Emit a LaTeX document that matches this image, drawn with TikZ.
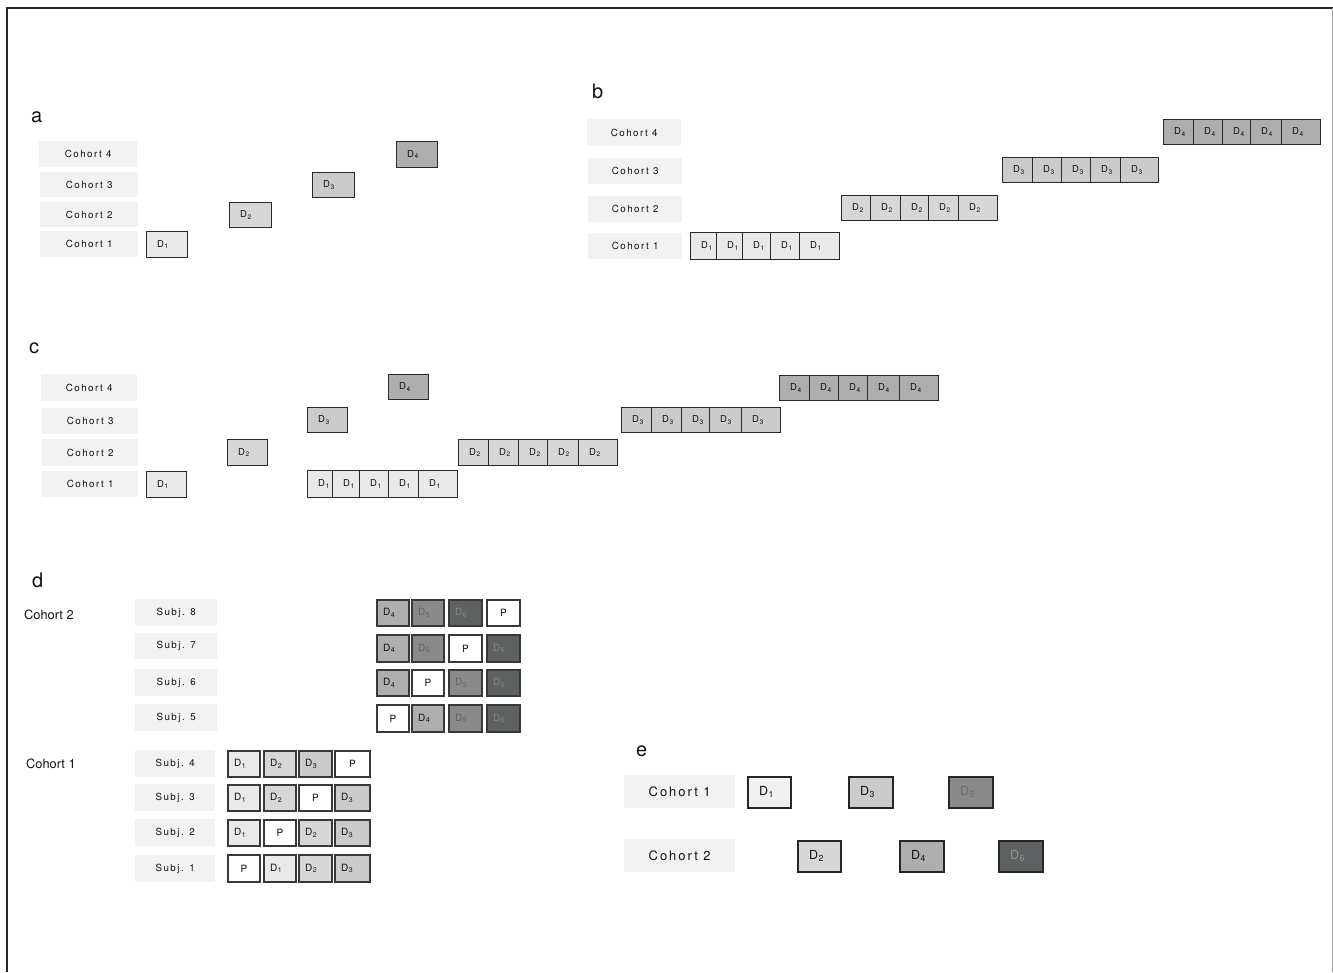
\documentclass[tikz,border=0pt]{standalone}
\usepackage{fontspec}
\setmainfont{TeX Gyre Heros}
\newfontfamily\lsfont[LetterSpace=15]{TeX Gyre Heros}
\definecolor{labfill}{HTML}{F2F2F2}
\definecolor{dA}{HTML}{E9E9E9}
\definecolor{dB}{HTML}{D7D7D7}
\definecolor{dC}{HTML}{CBCBCB}
\definecolor{dD}{HTML}{AEAEAE}
\definecolor{dE}{HTML}{8A8A8A}
\definecolor{dF}{HTML}{5E6161}
\definecolor{txt}{HTML}{111111}
\definecolor{edge}{HTML}{2A2A2A}
\newcommand\Dsub[1]{D\kern0.5pt\raisebox{-0.35ex}{\scalebox{0.7}{#1}}}
\def\dfont{\fontsize{9.5}{10}\selectfont}
\def\lfont{\lsfont\fontsize{9.8}{10}\selectfont}
% label box: name, x, y, w, h, text
\newcommand\LB[6]{\node[labbox, minimum width=#4pt, minimum height=#5pt, anchor=north west] (#1) at (#2,#3) {#6};}
% drug box: name, x, y, w, h, fill, text, xoffset, text colour
\newcommand\DB[9]{\node[dbox, fill=#6, minimum width=#4pt, minimum height=#5pt, anchor=north west] (#1) at (#2,#3) {};
  \node[dtext, text=#9, anchor=west] (#1t) at ([xshift=#8pt]#1.west) {#7};}
% placebo box: name, x, y, w, h
\newcommand\PB[5]{\node[dbox, fill=white, minimum width=#4pt, minimum height=#5pt, anchor=north west, font=\dfont, text=txt] (#1) at (#2,#3) {P};}
\begin{document}
\begin{tikzpicture}[x=1pt,y=-1pt,
  labbox/.style={fill=labfill, inner sep=0pt, text=txt, font=\lfont},
  dbox/.style={draw=edge, line width=1.3pt, inner sep=0pt},
  dtext/.style={inner sep=0pt, font=\dfont},
  panel/.style={anchor=base west, inner sep=0pt, font=\fontsize{20}{22}\selectfont, text=txt}]
\useasboundingbox (0,0) rectangle (1333,972);
% frame
\draw[line width=1.2pt, black!85] (6,8) -- (1333,8);
\draw[line width=1.2pt, black!85] (7,8) -- (7,972);
\draw[line width=0.8pt, black!35] (1332,8) -- (1332,972);

% ---------------- panel a
\node[panel] (pa) at (31,122) {a};
\LB{a4}{39}{141}{98}{26}{Cohort 4}
\LB{a3}{40}{172}{98}{25}{Cohort 3}
\LB{a2}{40}{202}{98}{25}{Cohort 2}
\LB{a1}{40}{231}{98}{26}{Cohort 1}
\DB{aD1}{146}{231}{41}{26}{dA}{\Dsub1}{11}{txt}
\DB{aD2}{229}{202}{42}{25}{dB}{\Dsub2}{11}{txt}
\DB{aD3}{312}{172}{42}{25}{dC}{\Dsub3}{11}{txt}
\DB{aD4}{396}{141}{41}{26}{dD}{\Dsub4}{11}{txt}

% ---------------- panel b
\node[panel] (pb) at (592,98) {b};
\LB{b4}{587}{119}{94}{27}{Cohort 4}
\LB{b3}{588}{158}{94}{26}{Cohort 3}
\LB{b2}{588}{196}{94}{26}{Cohort 2}
\LB{b1}{588}{233}{94}{26}{Cohort 1}
\foreach \x [count=\i] in {690,716,742,770,799}
  {\DB{bA\i}{\x}{232}{40}{27}{dA}{\Dsub1}{11}{txt}}
\foreach \x [count=\i] in {841,870,900,928,958}
  {\DB{bB\i}{\x}{195}{39}{25}{dB}{\Dsub2}{11}{txt}}
\foreach \x [count=\i] in {1002,1032,1061,1090,1120}
  {\DB{bC\i}{\x}{157}{38}{25}{dC}{\Dsub3}{11}{txt}}
\foreach \x [count=\i] in {1163,1193,1222,1250,1281}
  {\DB{bD\i}{\x}{119}{39}{25}{dD}{\Dsub4}{11}{txt}}

% ---------------- panel c
\node[panel] (pc) at (29,353) {c};
\LB{c4}{41}{374}{96}{27}{Cohort 4}
\LB{c3}{42}{408}{96}{26}{Cohort 3}
\LB{c2}{42}{439}{96}{27}{Cohort 2}
\LB{c1}{42}{471}{96}{26}{Cohort 1}
\DB{cD1}{146}{471}{40}{26}{dA}{\Dsub1}{11}{txt}
\DB{cD2}{227}{439}{40}{26}{dB}{\Dsub2}{11}{txt}
\DB{cD3}{307}{407}{40}{25}{dC}{\Dsub3}{11}{txt}
\DB{cD4}{388}{374}{40}{25}{dD}{\Dsub4}{11}{txt}
\foreach \x [count=\i] in {307,332,359,388,418}
  {\DB{cA\i}{\x}{470}{39}{27}{dA}{\Dsub1}{11}{txt}}
\foreach \x [count=\i] in {458,488,518,547,578}
  {\DB{cB\i}{\x}{439}{39}{26}{dB}{\Dsub2}{11}{txt}}
\foreach \x [count=\i] in {621,651,681,709,741}
  {\DB{cC\i}{\x}{407}{39}{25}{dC}{\Dsub3}{11}{txt}}
\foreach \x [count=\i] in {779,809,838,867,899}
  {\DB{cD\i r}{\x}{375}{39}{25}{dD}{\Dsub4}{11}{txt}}

% ---------------- panel d
\node[panel] (pd) at (32,587) {d};
\node[anchor=base west, inner sep=0pt, font=\fontsize{12.8}{14}\selectfont, text=txt] (dc2) at (24,619) {Cohort 2};
\node[anchor=base west, inner sep=0pt, font=\fontsize{12.8}{14}\selectfont, text=txt] (dc1) at (26,768) {Cohort 1};
\tikzset{dbox/.append style={line width=1.7pt, draw=black!78}}
\def\dfont{\fontsize{10}{11}\selectfont}
\LB{s8}{135}{599}{82}{27}{Subj. 8}
\LB{s7}{135}{633}{82}{26}{Subj. 7}
\LB{s6}{135}{669}{82}{27}{Subj. 6}
\LB{s5}{135}{704}{82}{27}{Subj. 5}
% row 8
\DB{r8a}{376}{599}{32}{26}{dD}{\Dsub4}{7}{txt}
\DB{r8b}{411}{599}{32}{26}{dE}{\Dsub5}{7}{black!62}
\DB{r8c}{448}{599}{33}{26}{dF}{\Dsub6}{7}{black!48}
\PB{r8d}{486}{599}{33}{26}
% row 7
\DB{r7a}{376}{634}{32}{27}{dD}{\Dsub4}{7}{txt}
\DB{r7b}{411}{634}{32}{27}{dE}{\Dsub5}{7}{black!62}
\PB{r7c}{448}{634}{33}{27}
\DB{r7d}{486}{634}{33}{27}{dF}{\Dsub6}{7}{black!48}
% row 6
\DB{r6a}{376}{669}{32}{26}{dD}{\Dsub4}{7}{txt}
\PB{r6b}{411}{669}{32}{26}
\DB{r6c}{448}{669}{33}{26}{dE}{\Dsub5}{7}{black!62}
\DB{r6d}{486}{669}{33}{26}{dF}{\Dsub6}{7}{black!48}
% row 5
\PB{r5a}{376}{704}{32}{27}
\DB{r5b}{411}{704}{32}{27}{dD}{\Dsub4}{7}{txt}
\DB{r5c}{448}{704}{33}{27}{dE}{\Dsub5}{7}{black!62}
\DB{r5d}{486}{704}{33}{27}{dF}{\Dsub6}{7}{black!48}
% cohort 1
\LB{s4}{135}{750}{80}{27}{Subj. 4}
\LB{s3}{135}{784}{80}{27}{Subj. 3}
\LB{s2}{135}{819}{80}{27}{Subj. 2}
\LB{s1}{135}{855}{80}{27}{Subj. 1}
% row 4
\DB{r4a}{227}{750}{32}{26}{dA}{\Dsub1}{7}{txt}
\DB{r4b}{263}{750}{32}{26}{dB}{\Dsub2}{7}{txt}
\DB{r4c}{298}{750}{33}{26}{dC}{\Dsub3}{7}{txt}
\PB{r4d}{334}{750}{35}{26}
% row 3
\DB{r3a}{227}{784}{32}{26}{dA}{\Dsub1}{7}{txt}
\DB{r3b}{263}{784}{32}{26}{dB}{\Dsub2}{7}{txt}
\PB{r3c}{298}{784}{33}{26}
\DB{r3d}{334}{784}{35}{26}{dC}{\Dsub3}{7}{txt}
% row 2
\DB{r2a}{227}{819}{32}{26}{dA}{\Dsub1}{7}{txt}
\PB{r2b}{263}{819}{32}{26}
\DB{r2c}{298}{819}{33}{26}{dB}{\Dsub2}{7}{txt}
\DB{r2d}{334}{819}{35}{26}{dC}{\Dsub3}{7}{txt}
% row 1
\PB{r1a}{227}{854}{32}{27}
\DB{r1b}{263}{854}{32}{27}{dA}{\Dsub1}{7}{txt}
\DB{r1c}{298}{854}{33}{27}{dB}{\Dsub2}{7}{txt}
\DB{r1d}{334}{854}{35}{27}{dC}{\Dsub3}{7}{txt}

% ---------------- panel e
\node[panel] (pe) at (636,756) {e};
\def\lfont{\lsfont\fontsize{13}{14}\selectfont}
\def\dfont{\fontsize{12.5}{13}\selectfont}
\tikzset{dbox/.append style={line width=1.5pt, draw=black!85}}
\LB{e1}{624}{775}{111}{33}{Cohort 1}
\LB{e2}{624}{839}{111}{33}{Cohort 2}
\DB{eD1}{747}{776}{43}{31}{dA!70!white}{\Dsub1}{12}{txt}
\DB{eD3}{848}{776}{44}{31}{dC}{\Dsub3}{12}{txt}
\DB{eD5}{948}{776}{44}{31}{dE}{\Dsub5}{12}{black!58}
\DB{eD2}{797}{840}{43}{31}{dB}{\Dsub2}{12}{txt}
\DB{eD4}{899}{840}{44}{31}{dD}{\Dsub4}{12}{txt}
\DB{eD6}{998}{840}{44}{31}{dF}{\Dsub6}{12}{black!42}
\end{tikzpicture}
\end{document}
